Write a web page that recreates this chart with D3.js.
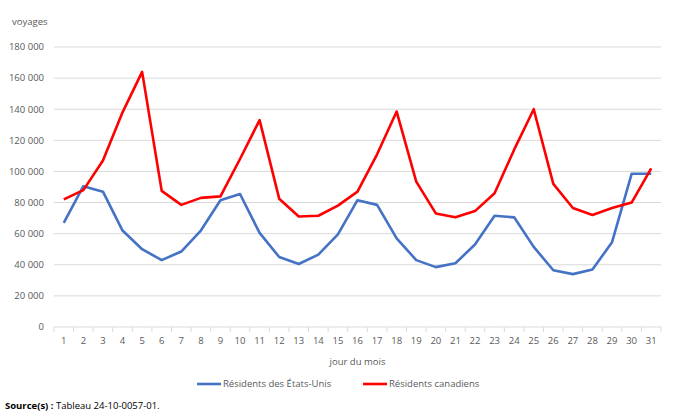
<!DOCTYPE html>
<html>
<head>
<meta charset="utf-8">
<script src="https://cdn.jsdelivr.net/npm/d3@7"></script>
<style>
  body { margin: 0; background: #fff; }
  text { font-family: "Open Sans", "Liberation Sans", sans-serif; }
</style>
</head>
<body>
<div id="chart"></div>
<script>
const days = d3.range(1, 32);
const usResidents = [67000, 90500, 87000, 62000, 50000, 43000, 48500, 62000, 81500, 85500,
    60500, 45000, 40500, 46500, 59500, 81500, 78500, 57000, 43000, 38500,
    41000, 53000, 71500, 70500, 51500, 36500, 34000, 37000, 54500, 98500, 98500];
const canResidents = [82000, 88000, 107000, 138000, 164000, 87500, 78500, 83000, 84000, 108000,
    133000, 82500, 71000, 71500, 78000, 87000, 111000, 138500, 93500, 73000,
    70500, 74500, 86000, 114000, 140000, 92000, 76500, 72000, 76500, 80000, 102000];
const yTicks = [0, 20000, 40000, 60000, 80000, 100000, 120000, 140000, 160000, 180000];

const series = [
    {name: "Résidents des États-Unis", values: usResidents, color: "#4472C4"},
    {name: "Résidents canadiens", values: canResidents, color: "#FF0000"}
];

const svg = d3.select("#chart").append("svg")
    .attr("width", 675)
    .attr("height", 418);

const margin = {top: 47, right: 14, bottom: 91, left: 54};
const width = 675 - margin.left - margin.right;
const height = 418 - margin.top - margin.bottom;
const g = svg.append("g").attr("transform", "translate(" + margin.left + "," + margin.top + ")");

const x = d3.scaleBand().domain(days).range([0, width]);
const y = d3.scaleLinear().domain([0, 180000]).range([height, 0]);
const fmt = v => d3.format(",")(v).replace(/,/g, " ");

// gridlines
g.selectAll("line.grid")
    .data(yTicks.filter(d => d > 0))
    .enter().append("line")
        .attr("class", "grid")
        .attr("x1", 0).attr("x2", width)
        .attr("y1", d => y(d)).attr("y2", d => y(d))
        .attr("stroke", "#d9d9d9").attr("stroke-width", 1);

// y labels
g.selectAll("text.ylab")
    .data(yTicks)
    .enter().append("text")
        .attr("class", "ylab")
        .attr("x", -10).attr("y", d => y(d))
        .attr("dy", "0.35em")
        .attr("text-anchor", "end")
        .attr("font-size", 9.5)
        .attr("fill", "#595959")
        .text(fmt);

// x axis
const xAxis = g.append("g")
    .attr("transform", "translate(0," + height + ")");
xAxis.append("line")
    .attr("x1", 0).attr("x2", width)
    .attr("stroke", "#d9d9d9");
xAxis.selectAll("line.tick")
    .data(days.concat([32]))
    .enter().append("line")
        .attr("class", "tick")
        .attr("x1", d => d <= 31 ? x(d) : width)
        .attr("x2", d => d <= 31 ? x(d) : width)
        .attr("y1", 0).attr("y2", 5)
        .attr("stroke", "#d9d9d9");
xAxis.selectAll("text")
    .data(days)
    .enter().append("text")
        .attr("x", d => x(d) + x.bandwidth() / 2)
        .attr("y", 17)
        .attr("text-anchor", "middle")
        .attr("font-size", 9.5)
        .attr("fill", "#595959")
        .text(d => d);

// lines
const line = d3.line()
    .x((d, i) => x(days[i]) + x.bandwidth() / 2)
    .y(d => y(d));

series.forEach(s => {
    g.append("path")
        .datum(s.values)
        .attr("fill", "none")
        .attr("stroke", s.color)
        .attr("stroke-width", 2.6)
        .attr("stroke-linejoin", "round")
        .attr("d", line);
});

// titles
svg.append("text")
    .attr("x", 12).attr("y", 25)
    .attr("font-size", 9.5).attr("fill", "#595959")
    .text("voyages");

svg.append("text")
    .attr("x", margin.left + width / 2).attr("y", 365)
    .attr("text-anchor", "middle")
    .attr("font-size", 9.5).attr("fill", "#595959")
    .text("jour du mois");

// legend
const legendX = [197, 363];
series.forEach((s, i) => {
    const lg = svg.append("g").attr("transform", "translate(" + legendX[i] + ",384)");
    lg.append("line")
        .attr("x1", 0).attr("x2", 24)
        .attr("stroke", s.color).attr("stroke-width", 2.6);
    lg.append("text")
        .attr("x", 26).attr("dy", "0.35em")
        .attr("font-size", 9.5).attr("fill", "#595959")
        .text(s.name);
});

// source
const src = svg.append("text")
    .attr("x", 5).attr("y", 409)
    .attr("font-size", 9.5).attr("fill", "#000");
src.append("tspan").attr("font-weight", "bold").text("Source(s) :");
src.append("tspan").text(" Tableau 24-10-0057-01.");
</script>
</body>
</html>
